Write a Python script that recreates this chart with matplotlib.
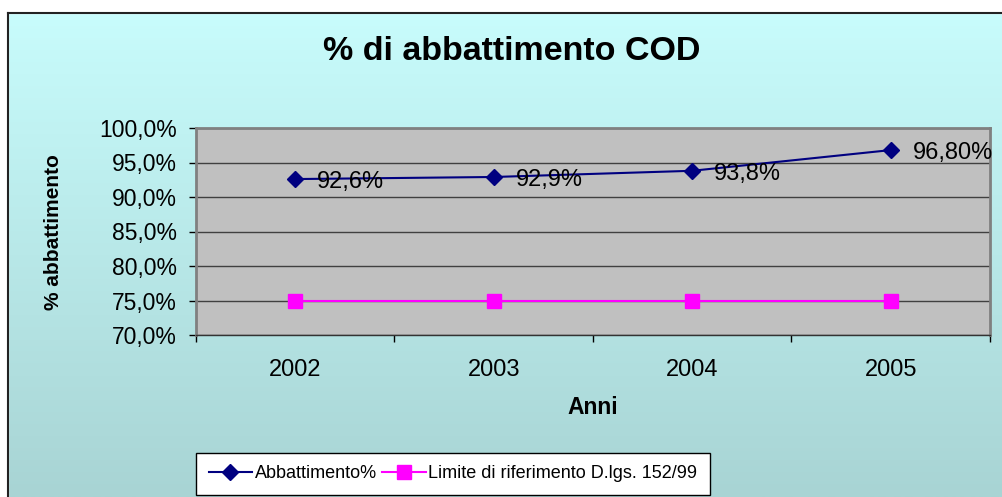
import numpy as np
import matplotlib
matplotlib.use('Agg')
import matplotlib.pyplot as plt

# Data
anni = ['2002', '2003', '2004', '2005']
abbattimento = [92.6, 92.9, 93.8, 96.8]
etichette = ['92,6%', '92,9%', '93,8%', '96,80%']
limite = [75.0, 75.0, 75.0, 75.0]
y_ticks = [70, 75, 80, 85, 90, 95, 100]
y_labels = ['70,0%', '75,0%', '80,0%', '85,0%', '90,0%', '95,0%', '100,0%']

plt.rcParams['font.family'] = ['Liberation Sans', 'DejaVu Sans']

W, H = 1003, 497
fig = plt.figure(figsize=(W / 100, H / 100), dpi=100)

# Background gradient (light cyan -> teal) with border on top/left
bg = fig.add_axes([0, 0, 1, 1], zorder=-10)
bg.set_xlim(0, W)
bg.set_ylim(H, 0)
bg.axis('off')
top = np.array([0xC8, 0xFC, 0xFC]) / 255
bot = np.array([0xA8, 0xD4, 0xD4]) / 255
t = np.linspace(0, 1, 256)[:, None]
grad = (top * (1 - t) + bot * t)[:, None, :]
bg.imshow(grad, extent=[8, W, H, 13], aspect='auto', zorder=0)
bg.fill_between([0, W], 0, 13, color='white', zorder=1)
bg.fill_between([0, 8], 0, H, color='white', zorder=1)
bg.plot([8, W], [13, 13], color='#222222', lw=1.5, zorder=2)
bg.plot([8, 8], [13, H], color='#222222', lw=1.5, zorder=2)

# Plot area
x0, x1, y0, y1 = 196, 990, 128, 335
ax = fig.add_axes([x0 / W, (H - y1) / H, (x1 - x0) / W, (y1 - y0) / H])
ax.set_facecolor('#C0C0C0')
x = np.arange(len(anni))
ax.set_xlim(-0.5, len(anni) - 0.5)
ax.set_ylim(70, 100)

ax.plot(x, limite, color='#FF00FF', lw=1.5, marker='s', ms=10,
        label='Limite di riferimento D.lgs. 152/99', zorder=3)
ax.plot(x, abbattimento, color='#000080', lw=1.5, marker='D', ms=8,
        label='Abbattimento%', zorder=4)

for xi, yi, lab in zip(x, abbattimento, etichette):
    ax.annotate(lab, (xi, yi), xytext=(22, -3), textcoords='offset pixels',
                ha='left', va='center', fontsize=17, color='black', zorder=5)

ax.set_yticks(y_ticks)
ax.set_yticklabels(y_labels, fontsize=16.5)
ax.yaxis.grid(True, color='#404040', lw=1)
ax.set_axisbelow(True)

ax.set_xticks(np.arange(-0.5, len(anni), 1.0))
ax.set_xticklabels([])
ax.set_xticks(x, minor=True)
ax.set_xticklabels(anni, minor=True, fontsize=17)
ax.tick_params(axis='x', which='minor', length=0, pad=17)
ax.tick_params(axis='x', which='major', length=5, direction='out', width=1)
ax.tick_params(axis='y', length=5, direction='out', width=1, pad=9)

for s in ax.spines.values():
    s.set_color('#808080')
    s.set_linewidth(2)
ax.spines['bottom'].set_color('#333333')
ax.spines['bottom'].set_linewidth(1)

# Titles
fig.text(512 / W, 1 - 52 / H, '% di abbattimento COD', ha='center', va='center',
         fontsize=24.5, fontweight='bold')
fig.text(54 / W, 1 - 232 / H, '% abbattimento', ha='center', va='center',
         rotation=90, fontsize=15, fontweight='bold')
fig.text(593 / W, 1 - 408 / H, 'Anni', ha='center', va='center',
         fontsize=16.5, fontweight='bold')

# Legend
h, l = ax.get_legend_handles_labels()
leg = fig.legend(h[::-1], l[::-1], loc='lower left', ncol=2,
                 bbox_to_anchor=(196 / W, 2 / H),
                 fontsize=13, frameon=True, fancybox=False, handlelength=2.4,
                 handletextpad=0.15, columnspacing=0.3, borderaxespad=0,
                 borderpad=0.7)
leg.get_frame().set_edgecolor('black')
leg.get_frame().set_linewidth(1)
leg.get_frame().set_facecolor('white')
leg.get_frame().set_alpha(1)

fig.savefig('out.png', dpi=100)
